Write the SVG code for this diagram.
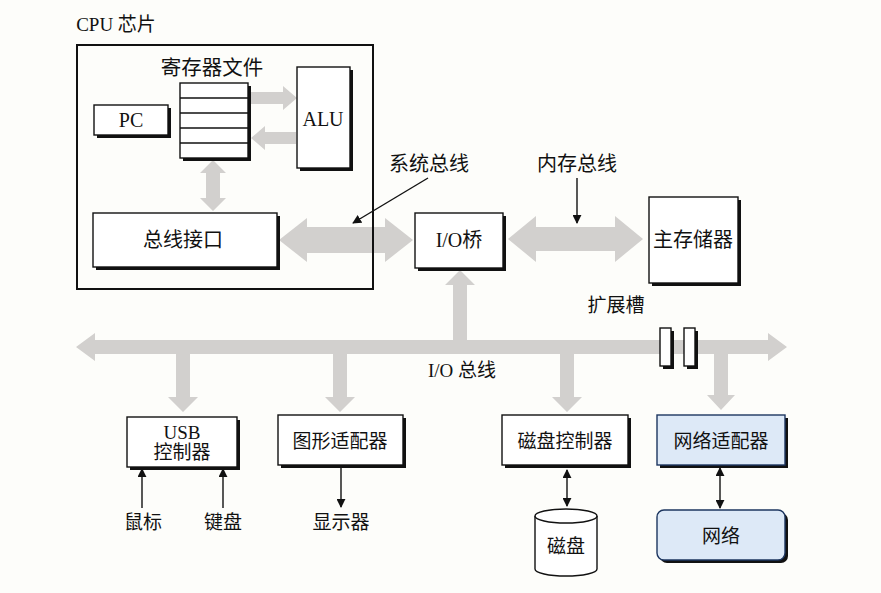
<svg xmlns="http://www.w3.org/2000/svg" width="881" height="593" viewBox="0 0 881 593">
<style>
  .t{font-family:"Liberation Serif","Noto Sans CJK SC",serif;fill:#111;text-anchor:middle;dominant-baseline:central}
  .sh{fill:#111}
  .bx{fill:#fff;stroke:#111;stroke-width:1.4}
  .bl{fill:#dde9f7;stroke:#1d3660;stroke-width:1.4}
  .bus{fill:#d2d0ce}
  .ln{stroke:#111;stroke-width:1.4;fill:none}
</style>
<defs>
  <marker id="ah" viewBox="0 0 10 10" refX="9" refY="5" markerWidth="9" markerHeight="9" markerUnits="userSpaceOnUse" orient="auto-start-reverse">
    <path d="M0,0 L10,5 L0,10 z" fill="#111"/>
  </marker>
</defs>
<rect width="881" height="593" fill="#fdfdfa"/>

<!-- connectors -->
<g id="connectors">
  <!-- reg -> ALU -->
  <polygon class="bus" points="251,92 283,92 283,86 297,98 283,110 283,104 251,104"/>
  <!-- ALU -> reg -->
  <polygon class="bus" points="296,132 265,132 265,126 251,138 265,150 265,144 296,144"/>
  <!-- reg <-> bus interface -->
  <polygon class="bus" points="213,160 226,173 220,173 220,198 226,198 213,211 200,198 206,198 206,173 200,173"/>
  <!-- system bus -->
  <polygon class="bus" points="279,240 307,218 307,227 385,227 385,218 413,240 385,262 385,253 307,253 307,262"/>
  <!-- memory bus -->
  <polygon class="bus" points="508,239 536,216 536,227 615,227 615,216 643,239 615,262 615,251 536,251 536,262"/>
  <!-- I/O bus with stubs -->
  <polygon class="bus" points="76,347 95,333 95,340 453,340 453,285 445,285 460,270 475,285 467,285 467,340 768,340 768,333 787,347 768,361 768,354 728,354 728,395 735,395 721,410 707,395 714,395 714,354 574,354 574,397 582,397 567,412 552,397 560,397 560,354 347,354 347,397 355,397 340,412 325,397 333,397 333,354 190,354 190,397 198,397 183,412 168,397 176,397 176,354 95,354 95,361"/>
  <!-- leader arrows -->
  <line class="ln" x1="428" y1="178" x2="353" y2="223" marker-end="url(#ah)"/>
  <line class="ln" x1="577" y1="178" x2="577" y2="223" marker-end="url(#ah)"/>
  <!-- mouse / keyboard -->
  <line class="ln" x1="142" y1="508" x2="142" y2="469" marker-end="url(#ah)"/>
  <line class="ln" x1="223" y1="508" x2="223" y2="469" marker-end="url(#ah)"/>
  <!-- display -->
  <line class="ln" x1="341" y1="468" x2="341" y2="507" marker-end="url(#ah)"/>
  <!-- disk -->
  <line class="ln" x1="567" y1="470" x2="567" y2="506" marker-start="url(#ah)" marker-end="url(#ah)"/>
  <!-- network -->
  <line class="ln" x1="720" y1="468" x2="720" y2="508" marker-start="url(#ah)" marker-end="url(#ah)"/>
</g>

<!-- CPU chip -->
<g id="cpu">
  <text class="t" x="116" y="24" font-size="19">CPU 芯片</text>
  <rect x="77" y="45" width="296" height="244" fill="none" stroke="#111" stroke-width="2"/>
</g>

<g id="regfile">
  <text class="t" x="212" y="68" font-size="20.5">寄存器文件</text>
  <rect class="sh" x="183" y="86" width="68" height="75"/>
  <rect class="bx" x="180" y="83" width="68" height="75"/>
  <line class="ln" x1="180" y1="98" x2="248" y2="98"/>
  <line class="ln" x1="180" y1="113" x2="248" y2="113"/>
  <line class="ln" x1="180" y1="128" x2="248" y2="128"/>
  <line class="ln" x1="180" y1="143" x2="248" y2="143"/>
</g>

<g id="pc">
  <rect class="sh" x="97" y="108" width="74" height="30"/>
  <rect class="bx" x="94" y="105" width="74" height="30"/>
  <text class="t" x="131" y="120" font-size="20">PC</text>
</g>

<g id="alu">
  <rect class="sh" x="300" y="70" width="53" height="101"/>
  <rect class="bx" x="297" y="67" width="53" height="101"/>
  <text class="t" x="323" y="119" font-size="20">ALU</text>
</g>

<g id="businterface">
  <rect class="sh" x="96" y="216" width="184" height="54"/>
  <rect class="bx" x="93" y="213" width="184" height="54"/>
  <text class="t" x="183" y="240" font-size="20">总线接口</text>
</g>

<g id="labels">
  <text class="t" x="429" y="164" font-size="20">系统总线</text>
  <text class="t" x="577" y="164" font-size="20">内存总线</text>
  <text class="t" x="616" y="305" font-size="19">扩展槽</text>
  <text class="t" x="462" y="370" font-size="19">I/O 总线</text>
</g>

<g id="iobridge">
  <rect class="sh" x="418" y="216" width="88" height="55"/>
  <rect class="bx" x="415" y="213" width="88" height="55"/>
  <text class="t" x="459" y="240" font-size="20">I/O桥</text>
</g>

<g id="mainmemory">
  <rect class="sh" x="652" y="200" width="89" height="86"/>
  <rect class="bx" x="649" y="197" width="89" height="86"/>
  <text class="t" x="693" y="240" font-size="20">主存储器</text>
</g>

<g id="slots">
  <rect class="sh" x="663" y="331" width="11" height="38"/>
  <rect class="bx" x="660" y="328" width="11" height="38"/>
  <rect class="sh" x="687" y="331" width="11" height="38"/>
  <rect class="bx" x="684" y="328" width="11" height="38"/>
</g>

<g id="usb">
  <rect class="sh" x="130" y="420" width="110" height="50"/>
  <rect class="bx" x="127" y="417" width="110" height="50"/>
  <text class="t" x="182" y="432" font-size="19">USB</text>
  <text class="t" x="182" y="452" font-size="19">控制器</text>
</g>
<g id="mouse"><text class="t" x="143" y="522" font-size="19">鼠标</text></g>
<g id="keyboard"><text class="t" x="223" y="522" font-size="19">键盘</text></g>

<g id="graphics">
  <rect class="sh" x="281" y="418" width="125" height="50"/>
  <rect class="bx" x="278" y="415" width="125" height="50"/>
  <text class="t" x="340" y="441" font-size="19">图形适配器</text>
</g>
<g id="display"><text class="t" x="341" y="522" font-size="19">显示器</text></g>

<g id="diskctrl">
  <rect class="sh" x="505" y="418" width="126" height="50"/>
  <rect class="bx" x="502" y="415" width="126" height="50"/>
  <text class="t" x="565" y="441" font-size="19">磁盘控制器</text>
</g>

<g id="disk">
  <path d="M535,516 L535,569 A31,7 0 0 0 597,569 L597,516" fill="#fff" stroke="#111" stroke-width="1.4"/>
  <ellipse cx="566" cy="516" rx="31" ry="7" fill="#fff" stroke="#111" stroke-width="1.4"/>
  <text class="t" x="566" y="546" font-size="19">磁盘</text>
</g>

<g id="netadapter">
  <rect class="sh" x="660" y="418" width="128" height="50"/>
  <rect class="bl" x="657" y="415" width="128" height="50"/>
  <text class="t" x="721" y="441" font-size="19">网络适配器</text>
</g>

<g id="network">
  <rect class="sh" x="660" y="513" width="128" height="50" rx="7"/>
  <rect class="bl" x="657" y="510" width="128" height="50" rx="7"/>
  <text class="t" x="721" y="536" font-size="19">网络</text>
</g>
</svg>
